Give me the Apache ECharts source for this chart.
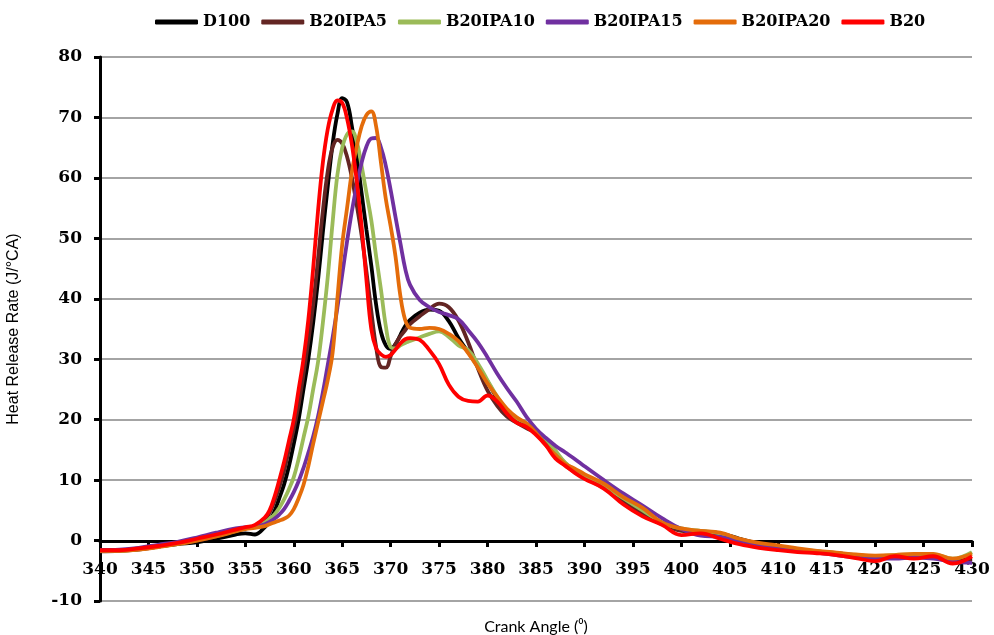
<!DOCTYPE html>
<html>
<head>
<meta charset="utf-8">
<script src="https://cdn.jsdelivr.net/npm/echarts@6/dist/echarts.min.js"></script>
<style>
  html, body { margin: 0; padding: 0; background: #fff; }
  #chart-container { width: 994px; height: 635px; }
</style>
</head>
<body>
<div id="chart-container"></div>
<script>
// crank angle samples (deg)
var angles = [340, 342, 344, 346, 348, 350, 352, 354, 355, 356,
  357, 357.5, 358, 358.5, 359, 359.5, 360, 360.5, 361, 361.5, 362, 362.5, 363, 363.5, 364, 364.5,
  365, 365.5, 366, 366.5, 367, 367.5, 368, 368.5, 369, 369.5, 370, 370.5, 371, 371.5, 372,
  373, 374, 375, 376, 377, 378, 379, 380, 381, 382, 383, 384, 385, 386, 387, 388, 389, 390,
  392, 394, 396, 398, 400, 402, 404, 406, 408, 410, 412, 414, 416, 418, 420, 422, 424, 426, 428, 430];

var d100 = [-1.6, -1.6, -1.4, -1.0, -0.6, -0.3, 0.3, 1.0, 1.2, 1.0,
  2.2, 3.2, 4.8, 7.0, 9.3, 12.3, 16.0, 20.0, 25.0, 30.0, 36.0, 43.0, 51.0, 58.5, 65.5, 70.5,
  73.2, 72.5, 68.5, 63.5, 57.5, 51.4, 45.5, 39.0, 34.5, 32.3, 31.7, 32.5, 34.0, 35.5, 36.5,
  37.7, 38.2, 38.0, 36.3, 33.5, 31.2, 28.8, 26.3, 23.5, 21.1, 20.0, 19.3, 18.2, 16.5, 14.5, 12.8, 11.5, 10.6,
  8.8, 6.7, 4.6, 2.9, 1.8, 1.5, 1.2, 0.3, -0.5, -1.1, -1.5, -1.8, -2.1, -2.4, -2.6, -2.6, -2.5, -2.5, -3.3, -3.0];

var b20ipa5 = [-1.8, -1.7, -1.5, -1.0, -0.5, 0.0, 0.7, 1.6, 2.0, 2.4,
  3.5, 4.6, 6.5, 8.8, 11.5, 15.0, 18.5, 22.5, 27.5, 33.0, 39.0, 46.5, 54.5, 61.0, 65.0, 66.3,
  65.7, 63.5, 60.0, 55.5, 50.5, 44.5, 38.0, 32.0, 28.7, 28.6, 30.5, 32.5, 33.8, 34.8, 35.8,
  37.1, 38.3, 39.2, 38.6, 36.4, 32.8, 28.5, 24.8, 22.3, 20.5, 19.5, 18.6, 17.8, 16.0, 14.0, 12.5, 11.3, 10.4,
  8.7, 6.5, 4.4, 2.7, 1.6, 1.4, 1.0, 0.2, -0.6, -1.2, -1.6, -1.9, -2.2, -2.5, -2.7, -2.6, -2.4, -2.4, -3.5, -3.2];

var b20ipa10 = [-1.7, -1.7, -1.4, -1.0, -0.5, 0.1, 0.8, 1.6, 2.0, 2.3,
  3.0, 3.6, 4.3, 5.4, 6.8, 8.5, 10.5, 13.5, 17.0, 20.5, 25.0, 29.5, 36.0, 43.5, 52.5, 60.5,
  65.0, 67.2, 67.7, 66.0, 62.0, 57.5, 53.0, 47.0, 41.5, 35.5, 32.0, 31.8, 32.3, 32.7, 33.0,
  33.6, 34.2, 34.6, 33.7, 32.3, 31.5, 29.3, 26.5, 23.8, 21.5, 20.2, 19.4, 18.3, 16.8, 14.9, 12.9, 11.7, 10.7,
  9.0, 7.0, 5.0, 3.0, 2.0, 1.6, 1.2, 0.2, -0.5, -1.0, -1.4, -1.8, -2.1, -2.4, -2.6, -2.4, -2.3, -2.3, -3.0, -1.9];

var b20ipa15 = [-1.6, -1.5, -1.2, -0.7, -0.2, 0.5, 1.3, 2.0, 2.2, 2.3,
  2.7, 3.1, 3.6, 4.3, 5.2, 6.5, 8.0, 9.8, 12.0, 14.5, 17.2, 20.5, 24.5, 29.0, 33.5, 38.5,
  44.0, 49.5, 54.5, 58.8, 62.5, 65.2, 66.5, 66.6, 65.0, 62.0, 58.0, 53.5, 49.2, 45.0, 42.3,
  39.8, 38.6, 37.8, 37.3, 36.6, 34.8, 32.8, 30.3, 27.6, 25.2, 23.0, 20.5, 18.5, 17.0, 15.7, 14.6, 13.5, 12.3,
  10.0, 7.8, 5.8, 3.7, 1.9, 0.8, 0.6, -0.1, -0.7, -1.3, -1.7, -2.0, -2.4, -2.8, -3.0, -3.0, -2.8, -3.0, -3.5, -3.7];

var b20ipa20 = [-1.7, -1.7, -1.5, -1.1, -0.6, 0.0, 0.7, 1.5, 1.9, 2.1,
  2.4, 2.7, 3.0, 3.3, 3.6, 4.1, 5.2, 7.0, 9.2, 12.3, 16.0, 19.5, 23.0, 26.5, 31.0, 40.0,
  49.0, 55.0, 61.0, 65.2, 68.5, 70.4, 71.0, 68.5, 62.5, 56.5, 52.0, 47.0, 40.5, 36.5, 35.2,
  35.0, 35.2, 35.0, 34.2, 33.0, 31.0, 28.6, 26.0, 23.8, 21.8, 20.4, 19.4, 17.8, 15.8, 14.2, 12.7, 11.9, 11.0,
  9.4, 7.2, 5.4, 3.0, 2.0, 1.6, 1.3, 0.3, -0.4, -0.8, -1.3, -1.7, -2.0, -2.3, -2.5, -2.4, -2.2, -2.2, -3.0, -2.2];

var b20 = [-1.6, -1.6, -1.3, -0.9, -0.4, 0.3, 1.0, 1.8, 2.2, 2.6,
  3.8, 5.0, 7.2, 10.0, 13.0, 16.5, 20.0, 25.0, 30.0, 36.5, 45.0, 54.5, 62.5, 68.0, 71.3, 72.8,
  72.4, 69.8, 65.5, 59.5, 52.0, 43.1, 35.0, 31.8, 30.8, 30.4, 30.7, 31.6, 32.6, 33.3, 33.5,
  33.2, 31.5, 29.2, 25.8, 23.8, 23.1, 23.0, 24.0, 23.0, 21.0, 19.5, 18.8, 17.5, 15.8, 13.6, 12.4, 11.2, 10.2,
  8.6, 6.0, 4.0, 2.6, 0.9, 1.2, 0.3, -0.6, -1.2, -1.6, -1.9, -2.1, -2.4, -2.9, -3.4, -2.6, -3.0, -2.6, -3.8, -2.6];

var seriesNames = ['D100', 'B20IPA5', 'B20IPA10', 'B20IPA15', 'B20IPA20', 'B20'];
var seriesValues = [d100, b20ipa5, b20ipa10, b20ipa15, b20ipa20, b20];
var seriesColors = ['#000000', '#632523', '#9bbb59', '#7030a0', '#e46c0a', '#ff0000'];

var xMin = 340, xMax = 430, xStep = 5;
var yMin = -10, yMax = 80, yStep = 10;

var tickFont = 'DejaVu Serif';

var dom = document.getElementById('chart-container');
var myChart = echarts.init(dom, null, { renderer: 'canvas' });

var series = seriesNames.map(function (name, i) {
  return {
    name: name,
    type: 'line',
    smooth: 0.4,
    showSymbol: false,
    symbol: 'none',
    lineStyle: { width: 3.8, color: seriesColors[i] },
    itemStyle: { color: seriesColors[i] },
    data: angles.map(function (a, j) { return [a, seriesValues[i][j]]; })
  };
});

// the x axis crosses at y = 0: a second grid ends exactly on the zero line
var zeroFrac = yMax / (yMax - yMin);
var plotTop = 57, plotH = 635 - 57 - 34;

var option = {
  animation: false,
  backgroundColor: '#ffffff',
  legend: {
    left: 150,
    top: 9,
    icon: 'roundRect',
    itemWidth: 43,
    itemHeight: 5,
    itemGap: 11,
    textStyle: { fontFamily: tickFont, fontWeight: 'bold', fontSize: 16, color: '#000' },
    data: seriesNames
  },
  grid: [
    { left: 100, right: 22, top: plotTop, height: plotH, containLabel: false, outerBoundsMode: 'none' },
    { left: 100, right: 22, top: plotTop, height: Math.round(plotH * zeroFrac), containLabel: false, outerBoundsMode: 'none' }
  ],
  xAxis: [
    {
      gridIndex: 0,
      type: 'value',
      min: xMin,
      max: xMax,
      interval: xStep,
      axisLine: { show: false },
      axisTick: { show: false },
      axisLabel: { show: false },
      splitLine: { show: false }
    },
    {
      gridIndex: 1,
      type: 'value',
      min: xMin,
      max: xMax,
      interval: xStep,
      position: 'bottom',
      name: 'Crank Angle (\u2070)',
      nameLocation: 'middle',
      nameGap: 78,
      nameTextStyle: { fontFamily: 'Lato, "DejaVu Sans"', fontSize: 16, color: '#000' },
      axisLine: { show: true, onZero: false, lineStyle: { color: '#000', width: 3 } },
      axisTick: { show: true, length: 6, lineStyle: { color: '#000', width: 3 } },
      axisLabel: { margin: 20, fontFamily: tickFont, fontWeight: 'bold', fontSize: 17, color: '#000' },
      splitLine: { show: false }
    }
  ],
  yAxis: [
    {
      gridIndex: 0,
      type: 'value',
      min: yMin,
      max: yMax,
      interval: yStep,
      name: 'Heat Release Rate (J/\u00b0CA)',
      nameLocation: 'middle',
      nameGap: 78,
      nameTextStyle: { fontFamily: '"Liberation Sans", Arial', fontSize: 16, color: '#000' },
      axisLine: { show: true, onZero: false, lineStyle: { color: '#000', width: 3 } },
      axisTick: { show: true, length: 6, lineStyle: { color: '#000', width: 3 } },
      axisLabel: { margin: 18, fontFamily: tickFont, fontWeight: 'bold', fontSize: 17, color: '#000' },
      splitLine: { show: true, lineStyle: { color: '#868686', width: 1.5 } }
    },
    {
      gridIndex: 1,
      type: 'value',
      min: 0,
      max: yMax,
      show: false
    }
  ],
  series: series
};

myChart.setOption(option);
window.addEventListener('resize', myChart.resize);
</script>
</body>
</html>
